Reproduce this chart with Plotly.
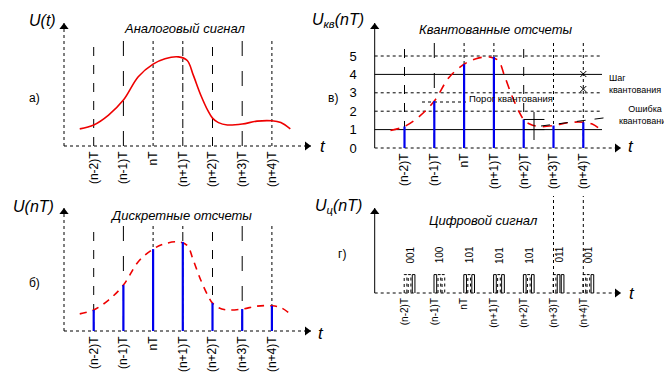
import plotly.graph_objects as go

W, H = 672, 375

# ---------------- data ----------------
sample_k = [-2, -1, 0, 1, 2, 3, 4]
tick_labels = ["(n-2)T", "(n-1)T", "nT", "(n+1)T", "(n+2)T", "(n+3)T", "(n+4)T"]
sample_u = [1.17, 2.55, 4.55, 4.95, 1.55, 1.22, 1.40]

curve_k = [-2.47, -2.0, -1.5, -1.0, -0.5, 0.0, 0.4, 0.85, 1.15, 1.35, 1.6, 1.85, 2.0, 2.2, 2.5, 3.0, 3.5, 4.0, 4.3, 4.62]
curve_u = [0.95, 1.17, 1.72, 2.55, 3.85, 4.55, 4.85, 4.95, 4.75, 3.95, 2.85, 1.95, 1.55, 1.30, 1.17, 1.22, 1.38, 1.40, 1.30, 0.95]

level_vals = [0, 1, 2, 3, 4, 5]
level_labels = ["0", "1", "2", "3", "4", "5"]
level_styles = ["dot", "solid", "dot", "dot", "solid", "dot"]
threshold_val = 2.5

codes = ["001", "100", "101", "101", "101", "011", "001"]

grid_style_ab = ["dash", "longdash", "dot", "dashdot", "dash", "longdash", "dot"]
grid_style_c = ["dash", "longdash", "dot", "dot", "dash", "dot", "dot"]

# ---------------- panel geometry (pixel calibration) ----------------
panels = {
    "a": dict(x0=56.0, dx=29.7, px=(20, 330), y0=138.0, dy=18.0, py=(0, 187)),
    "b": dict(x0=56.0, dx=29.7, px=(20, 330), y0=323.0, dy=18.0, py=(188, 375)),
    "c": dict(x0=366.7, dx=29.8, px=(346, 668), y0=140.0, dy=18.4, py=(0, 187)),
    "d": dict(x0=366.7, dx=29.8, px=(346, 668), y0=285.0, dy=18.4, py=(188, 375)),
}
axis_ids = {"a": ("x", "y"), "b": ("x2", "y2"), "c": ("x3", "y3"), "d": ("x4", "y4")}

K0 = -3  # axis origin in sample units


def k_of_px(p, px):
    return K0 + (px - p["x0"]) / p["dx"]


def u_of_py(p, py):
    return (p["y0"] - py) / p["dy"]


fig = go.Figure()
FONT = "Liberation Sans, Arial, sans-serif"
annotations = []


def line(pn, xs, ys, color="black", width=1, dash="solid", shape="linear"):
    xa, ya = axis_ids[pn]
    fig.add_trace(go.Scatter(x=xs, y=ys, mode="lines", xaxis=xa, yaxis=ya,
                             line=dict(color=color, width=width, dash=dash, shape=shape),
                             hoverinfo="skip", showlegend=False))


def head(pn, x, y, symbol):
    xa, ya = axis_ids[pn]
    fig.add_trace(go.Scatter(x=[x], y=[y], mode="markers", xaxis=xa, yaxis=ya,
                             marker=dict(symbol=symbol, size=8, color="black",
                                         line=dict(width=0)),
                             hoverinfo="skip", showlegend=False, cliponaxis=False))


def ptext(px, py, text, size=12, xanchor="center", align="center", italic=False):
    t = f"<i>{text}</i>" if italic else text
    annotations.append(dict(x=px / W, y=1 - py / H, xref="paper", yref="paper",
                            text=t, showarrow=False, xanchor=xanchor, yanchor="middle",
                            align=align, font=dict(family=FONT, size=size, color="black")))


# ---------------- axes (arrows) ----------------
tip_y = {"a": 15, "b": 200, "c": 15, "d": 200}
tip_x = {"a": 303, "b": 303, "c": 613, "d": 613}
ydash = {"a": "dot", "b": "dot", "c": "solid", "d": "solid"}
for pn in "abcd":
    p = panels[pn]
    top = u_of_py(p, tip_y[pn])
    end = k_of_px(p, tip_x[pn])
    line(pn, [K0, K0], [0, top], dash=ydash[pn])
    line(pn, [K0, end], [0, 0], dash="dot")
    head(pn, K0, u_of_py(p, tip_y[pn] + 4), "triangle-up")
    head(pn, k_of_px(p, tip_x[pn] - 4), 0, "triangle-right")

# ---------------- panel a ----------------
pa = panels["a"]
vtop_ab = u_of_py(pa, 33)
for k, st in zip(sample_k, grid_style_ab):
    line("a", [k, k], [0, vtop_ab], dash=st)
line("a", curve_k, curve_u, color="#ee0000", width=1.6, shape="spline")

# ---------------- panel b ----------------
for k, st in zip(sample_k, grid_style_ab):
    line("b", [k, k], [0, vtop_ab], dash=st)
line("b", curve_k, curve_u, color="#ee0000", width=1.6, dash="7px,6px", shape="spline")
bx, by = [], []
for k, u in zip(sample_k, sample_u):
    bx += [k, k, None]
    by += [0, u, None]
line("b", bx, by, color="#0000ee", width=2.2)

# ---------------- panel c ----------------
pc = panels["c"]
lvl_end = k_of_px(pc, 594)
for v, st in zip(level_vals[1:], level_styles[1:]):
    line("c", [K0, lvl_end], [v, v], dash=st)
vtop_c = u_of_py(pc, 33)
for k, st in zip(sample_k, grid_style_c):
    line("c", [k, k], [0, vtop_c], dash=st)
line("c", [k_of_px(pc, 414), k_of_px(pc, 458)], [threshold_val, threshold_val], dash="dot")
line("c", curve_k, curve_u, color="#ee0000", width=1.6, dash="9px,7px", shape="spline")
line("c", bx, by, color="#0000ee", width=2.2)
# quantization error marker
ek = k_of_px(pc, 526)
line("c", [ek, ek], [u_of_py(pc, 132), u_of_py(pc, 104)], width=1)
line("c", [ek - 0.35, ek + 0.35, None, ek - 0.35, ek + 0.35],
     [sample_u[4], sample_u[4], None, 1, 1], width=1)
line("c", [k_of_px(pc, 533), k_of_px(pc, 603)], [u_of_py(pc, 118), u_of_py(pc, 109)], dash="dash")
fig.add_trace(go.Scatter(x=[4, 4], y=[u_of_py(pc, 66), u_of_py(pc, 81)], mode="markers",
                         xaxis="x3", yaxis="y3", hoverinfo="skip", showlegend=False,
                         marker=dict(symbol="x-thin-open", size=6, color="black",
                                     line=dict(width=1, color="black"))))

# ---------------- panel d ----------------
pd_ = panels["d"]
dtop = u_of_py(pd_, 188)
for k in sample_k[5:]:
    line("d", [k, k], [0, dtop], dash="dot")
bit_h = 1.0
hw = 0.045
solid_x, solid_y, dot_x, dot_y = [], [], [], []
for k, code in zip(sample_k, codes):
    gc = k + 0.17
    for j, bit in enumerate(code):
        c = gc + (j - 1) * 0.135
        xs = [c - hw, c - hw, c + hw, c + hw, None]
        ys = [0, bit_h, bit_h, 0, None]
        if bit == "1":
            solid_x += xs; solid_y += ys
        else:
            dot_x += xs; dot_y += ys
    annotations.append(dict(x=gc, y=u_of_py(pd_, 247), xref="x4", yref="y4", text=code,
                            textangle=-90, showarrow=False,
                            font=dict(family=FONT, size=10, color="black")))
line("d", solid_x, solid_y, width=1)
line("d", dot_x, dot_y, width=1, dash="dot")

# ---------------- text ----------------
ptext(34, 13, "U(t)", 16, italic=True)
ptext(25, 198, "U(nT)", 16, italic=True)
ptext(330, 13, "U<sub>кв</sub>(nT)", 16, italic=True)
ptext(330, 198, "U<sub>ц</sub>(nT)", 16, italic=True)

ptext(177, 20, "Аналоговый сигнал", 13, italic=True)
ptext(173, 207, "Дискретные отсчеты", 13, italic=True)
ptext(488, 21, "Квантованные отсчеты", 13, italic=True)
ptext(475, 212, "Цифровой сигнал", 13, italic=True)

ptext(26, 90, "а)", 12)
ptext(26, 275, "б)", 12)
ptext(325, 90, "в)", 12)
ptext(334, 246, "г)", 12)

ptext(315, 138, "t", 17, italic=True)
ptext(313, 325, "t", 17, italic=True)
ptext(623, 138, "t", 17, italic=True)
ptext(624, 285, "t", 17, italic=True)

ptext(599, 76, "Шаг<br>квантования", 9, xanchor="left", align="left")
ptext(637, 107, "Ошибка<br>квантования", 9)
ptext(459, 90, "Порог квантования", 9.5, xanchor="left", align="left")

# ---------------- layout ----------------
layout = dict(width=W, height=H, margin=dict(l=0, r=0, t=0, b=0),
              paper_bgcolor="white", plot_bgcolor="rgba(0,0,0,0)",
              showlegend=False, annotations=annotations,
              font=dict(family=FONT, color="black"))
for i, pn in enumerate("abcd"):
    p = panels[pn]
    suffix = "" if i == 0 else str(i + 1)
    xr = [k_of_px(p, p["px"][0]), k_of_px(p, p["px"][1])]
    yr = [u_of_py(p, p["py"][1]), u_of_py(p, p["py"][0])]
    layout["xaxis" + suffix] = dict(
        domain=[p["px"][0] / W, p["px"][1] / W], range=xr, anchor="free",
        position=1 - p["y0"] / H, tickvals=sample_k, ticktext=tick_labels,
        tickangle=-90, tickfont=dict(family=FONT, size=10 if pn == "d" else 12),
        ticks="", showgrid=False, zeroline=False, showline=False,
        ticklabelstandoff=2, fixedrange=True)
    ycfg = dict(domain=[1 - p["py"][1] / H, 1 - p["py"][0] / H], range=yr,
                anchor="free", position=p["x0"] / W, showgrid=False, zeroline=False,
                showline=False, ticks="", fixedrange=True)
    if pn == "c":
        ycfg.update(tickvals=level_vals, ticktext=level_labels,
                    tickfont=dict(family=FONT, size=13), ticklabelstandoff=18)
    else:
        ycfg.update(showticklabels=False)
    layout["yaxis" + suffix] = ycfg

fig.update_layout(**layout)
fig.write_html("out.html")
